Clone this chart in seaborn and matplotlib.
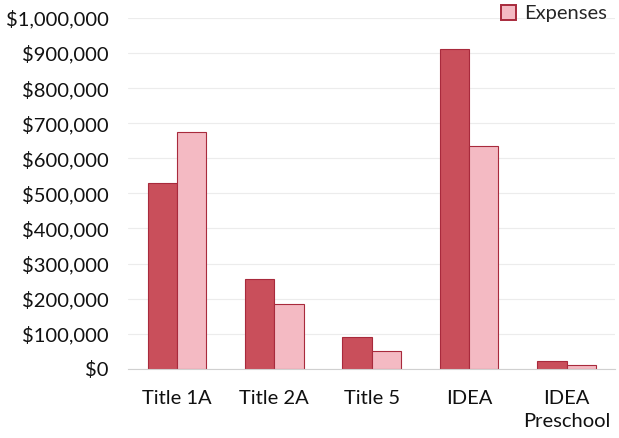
import matplotlib
matplotlib.use("Agg")
import matplotlib.pyplot as plt
import matplotlib.patches as mpatches
from matplotlib.ticker import FuncFormatter
import seaborn as sns
import pandas as pd

categories = ["Title 1A", "Title 2A", "Title 5", "IDEA", "IDEA\nPreschool"]
revenue = [530000, 256000, 91000, 912000, 22000]
expenses = [675000, 185000, 51000, 635000, 10000]
series_names = ["Revenue", "Expenses"]

df = pd.DataFrame({
    "category": categories * 2,
    "value": revenue + expenses,
    "series": [series_names[0]] * len(categories) + [series_names[1]] * len(categories),
})

sns.set_theme(style="white")
plt.rcParams["font.family"] = ["Lato", "DejaVu Sans"]

fig = plt.figure(figsize=(6.19, 4.38), dpi=100)
ax = fig.add_axes([0.207, 0.158, 0.787, 0.801])

dark = "#c94f5b"
light = "#f4bac3"
edge = "#a82a3c"

sns.barplot(data=df, x="category", y="value", hue="series", order=categories,
            hue_order=series_names, palette=[dark, light], width=0.6,
            saturation=1, edgecolor=edge, linewidth=0.8, ax=ax, legend=False)

ax.set_ylim(0, 1000000)
ax.set_yticks(range(0, 1000001, 100000))
ax.yaxis.set_major_formatter(FuncFormatter(lambda v, p: "${:,.0f}".format(v)))
ax.grid(axis="y", color="#ececec", linewidth=0.8)
ax.set_axisbelow(True)
for s in ["top", "right", "left"]:
    ax.spines[s].set_visible(False)
ax.spines["bottom"].set_color("#d0d0d0")
ax.spines["bottom"].set_linewidth(0.8)
ax.tick_params(axis="both", length=0, labelsize=14.5, colors="#111111")
ax.tick_params(axis="y", pad=14)
ax.tick_params(axis="x", pad=15)
for lbl in ax.get_xticklabels():
    lbl.set_linespacing(1.45)
ax.set_xlabel("")
ax.set_ylabel("")

handle = mpatches.Patch(facecolor=light, edgecolor=edge, linewidth=1.4, label="Expenses")
leg = ax.legend(handles=[handle], loc="upper right", bbox_to_anchor=(1.0, 1.06),
                frameon=False, fontsize=14.5, handlelength=0.75, handleheight=0.75,
                handletextpad=0.4, borderaxespad=0)

fig.savefig("out.png", dpi=100, facecolor="white")
